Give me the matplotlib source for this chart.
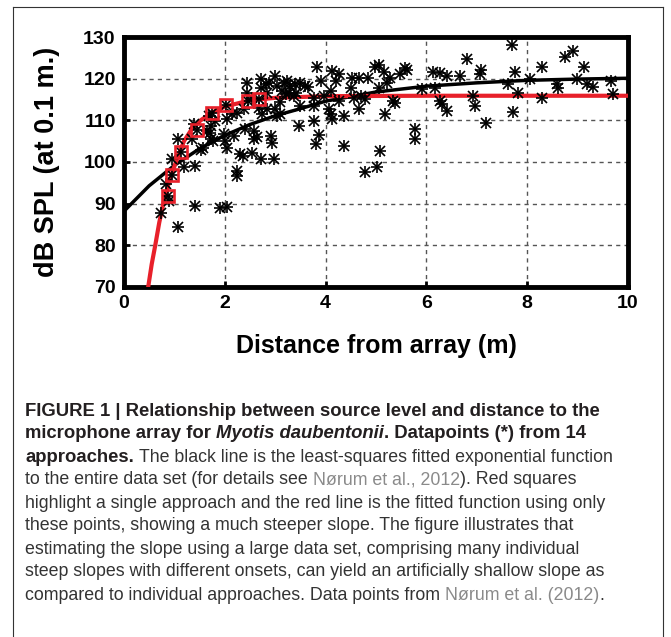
import numpy as np
import matplotlib
matplotlib.use('Agg')
import matplotlib.pyplot as plt
from matplotlib.lines import Line2D

# scatter data (distance m, dB SPL)
dist = [0.73, 0.87, 0.90, 0.84, 0.96, 0.95, 1.14, 1.07, 1.08, 1.20, 1.34, 1.39, 1.41, 1.41,
        1.45, 1.52, 1.56, 1.69, 1.70, 1.74, 1.77, 1.65, 1.72, 1.81, 1.90, 2.04, 1.98, 2.05,
        2.00, 2.05, 2.02, 1.72,
        2.15, 2.18, 2.25, 2.25, 2.25, 2.31, 2.37, 2.38, 2.41, 2.44, 2.46, 2.45, 2.54, 2.54,
        2.58, 2.58, 2.63, 2.68, 2.68, 2.71, 2.71, 2.71, 2.74, 2.81, 2.84, 2.84, 2.88, 2.91,
        2.94, 2.97, 3.00, 3.00, 3.04, 3.04,
        3.10, 3.14, 3.17, 3.21, 3.24, 3.27, 3.30, 3.37, 3.40, 3.42, 3.47, 3.50, 3.50, 3.60,
        3.66, 3.77, 3.77, 3.77, 3.80, 3.83, 3.87, 3.90, 3.97, 3.10,
        4.07, 4.10, 4.10, 4.13, 4.13, 4.20, 4.26, 4.26, 4.36, 4.36, 4.50, 4.53, 4.56, 4.66,
        4.66, 4.70, 4.78, 4.78, 4.85, 4.98, 5.01, 5.05, 5.05, 5.08,
        5.15, 5.21, 5.28, 5.18, 5.34, 5.37, 5.48, 5.58, 5.61, 5.77, 5.77, 5.91, 6.14, 6.17,
        6.27, 6.27, 6.30, 6.40, 6.40, 6.67, 6.80, 6.93, 6.96, 7.07, 7.09, 7.19,
        7.62, 7.69, 7.72, 7.75, 7.82, 8.05, 8.30, 8.30, 8.60, 8.62, 8.75, 8.91, 8.98, 9.13,
        9.18, 9.30, 9.66, 9.71]
spl = [87.8, 91.8, 90.6, 94.8, 96.9, 100.8, 102.5, 84.4, 105.6, 98.8, 105.6, 109.1, 99.1, 89.4,
       107.7, 102.9, 103.4, 111.0, 107.0, 111.8, 105.1, 107.4, 108.6, 109.8, 88.9, 89.1, 106.6, 110.2,
       105.0, 103.4, 113.6, 105.4,
       111.4, 106.2, 111.8, 97.9, 96.7, 101.9, 101.5, 112.6, 107.8, 116.6, 114.7, 119.0, 115.4, 102.2,
       107.4, 105.4, 105.9, 115.1, 113.0, 119.8, 117.8, 100.6, 111.4, 118.6, 116.6, 112.6, 119.0, 106.2,
       104.6, 100.6, 120.6, 112.6, 111.0, 118.2,
       114.3, 117.0, 119.0, 116.2, 119.4, 116.6, 118.2, 115.9, 118.6, 116.6, 108.7, 113.5, 119.0, 118.2,
       118.0, 115.4, 113.4, 109.8, 104.2, 122.8, 106.5, 119.4, 115.8, 111.4,
       112.6, 111.4, 117.0, 110.2, 121.8, 119.4, 121.0, 114.6, 111.0, 103.9, 117.8, 120.2, 115.4, 120.2,
       112.6, 115.8, 115.0, 97.5, 120.2, 122.8, 98.7, 123.3, 117.8, 102.7,
       121.7, 119.0, 120.2, 111.4, 114.6, 114.2, 121.0, 122.5, 122.1, 107.9, 105.5, 117.4, 121.7, 117.8,
       121.3, 114.6, 113.8, 120.6, 112.2, 120.6, 124.8, 115.8, 113.4, 121.0, 122.1, 109.4,
       118.6, 128.1, 112.0, 121.7, 116.6, 119.8, 122.8, 115.4, 118.6, 117.8, 125.3, 126.7, 119.9, 122.9,
       118.6, 118.0, 119.4, 116.2]

# single approach (red squares)
app_dist = [0.87, 0.96, 1.14, 1.45, 1.74, 2.02, 2.46, 2.68]
app_spl = [91.8, 96.9, 102.5, 107.7, 111.8, 113.6, 114.7, 115.1]

# fitted curves
fit_all_x = [0, 0.5, 1, 1.5, 2, 2.5, 3, 3.5, 4, 5, 6, 7, 8, 9, 10]
fit_all_y = [88.2, 94.3, 99.2, 103.2, 106.4, 109.0, 111.1, 112.8, 114.6, 116.8, 118.2, 119.0, 119.6, 119.9, 120.1]
fit_app_x = [0.48, 0.55, 0.62, 0.70, 0.78, 0.90, 1.03, 1.19, 1.35, 1.52, 1.75, 2.0, 2.5, 3.0, 4.0, 6.0, 10.0]
fit_app_y = [70, 75.5, 80, 85.5, 90, 95.5, 100, 105, 108, 110, 111.9, 113.3, 114.8, 115.4, 115.8, 115.9, 115.9]

xticks = [0, 2, 4, 6, 8, 10]
yticks = [70, 80, 90, 100, 110, 120, 130]

W, H = 671, 637
fig = plt.figure(figsize=(W / 100, H / 100), dpi=100)
ax = fig.add_axes([124 / W, 1 - 287 / H, 504 / W, 250 / H])

ax.plot(fit_all_x, fit_all_y, color='black', lw=2.5, zorder=3)
ax.plot(fit_app_x, fit_app_y, color='#e8202a', lw=3.0, zorder=4)
ax.plot(dist, spl, ls='none', marker='+', ms=9, mew=1.2, color='black', zorder=5)
ax.plot(dist, spl, ls='none', marker='x', ms=6.5, mew=1.2, color='black', zorder=5)
ax.plot(app_dist, app_spl, ls='none', marker='s', ms=8.5, mfc='none', mec='#e8202a', mew=1.9, zorder=6)

ax.set_xlim(0, 10)
ax.set_ylim(70, 130)
ax.set_xticks(xticks)
ax.set_yticks(yticks)
ax.grid(True, color='#555555', ls=(0, (3, 3)), lw=1.0)
for s in ax.spines.values():
    s.set_linewidth(3.5)
ax.tick_params(direction='in', length=4, width=2, labelsize=14, pad=6)
for lab in ax.get_xticklabels() + ax.get_yticklabels():
    lab.set_fontweight('bold')
    lab.set_fontfamily('Liberation Sans')

ax.set_xlabel('Distance from array (m)', fontsize=18, fontweight='bold', family='Liberation Sans')
ax.set_ylabel('dB SPL (at 0.1 m.)', fontsize=19.5, fontweight='bold', family='Liberation Sans')
ax.xaxis.set_label_coords(0.5, -0.236)
ax.xaxis.label.set_va('center')
ax.yaxis.set_label_coords(-0.152, 0.5)
ax.yaxis.label.set_va('center')

# frame around the panel
for xs, ys in [([13, 13], [637, 7]), ([13, 663], [7, 7]), ([663, 663], [7, 637])]:
    fig.add_artist(Line2D([x / W for x in xs], [1 - y / H for y in ys],
                          color='#333333', lw=0.8))

# caption
dark = '#231f20'
body = '#333333'
ref = '#8a8a8a'
lines = [
    [('FIGURE 1 | Relationship between source level and distance to the', 'bold', 'normal', dark)],
    [('microphone array for ', 'bold', 'normal', dark), ('Myotis daubentonii', 'bold', 'italic', dark),
     ('. Datapoints (*) from 14', 'bold', 'normal', dark)],
    [('approaches. ', 'bold', 'normal', dark),
     ('The black line is the least-squares fitted exponential function', 'normal', 'normal', body)],
    [('to the entire data set (for details see ', 'normal', 'normal', body),
     ('Nørum et al., 2012', 'normal', 'normal', ref), ('). Red squares', 'normal', 'normal', body)],
    [('highlight a single approach and the red line is the fitted function using only', 'normal', 'normal', body)],
    [('these points, showing a much steeper slope. The figure illustrates that', 'normal', 'normal', body)],
    [('estimating the slope using a large data set, comprising many individual', 'normal', 'normal', body)],
    [('steep slopes with different onsets, can yield an artificially shallow slope as', 'normal', 'normal', body)],
    [('compared to individual approaches. Data points from ', 'normal', 'normal', body),
     ('Nørum et al. (2012)', 'normal', 'normal', ref), ('.', 'normal', 'normal', body)],
]
sizes = {'bold': 13.3, 'normal': 12.8}
fig.canvas.draw()
r = fig.canvas.get_renderer()
space_w = {}
for wt, fs in sizes.items():
    a = fig.text(0, 0, 'a a', fontsize=fs, fontweight=wt, family='Liberation Sans')
    b = fig.text(0, 0, 'aa', fontsize=fs, fontweight=wt, family='Liberation Sans')
    space_w[wt] = a.get_window_extent(r).width - b.get_window_extent(r).width
    a.remove()
    b.remove()

y0 = 411
for i, segs in enumerate(lines):
    x = 25
    y = y0 + i * 23
    for txt, wt, st, col in segs:
        core = txt.rstrip(' ')
        t = fig.text(x / W, 1 - y / H, core, fontsize=sizes[wt], fontweight=wt, fontstyle=st,
                     color=col, family='Liberation Sans', va='center', ha='left')
        x += t.get_window_extent(r).width + space_w[wt] * (len(txt) - len(core))

fig.savefig('out.png', dpi=100)
